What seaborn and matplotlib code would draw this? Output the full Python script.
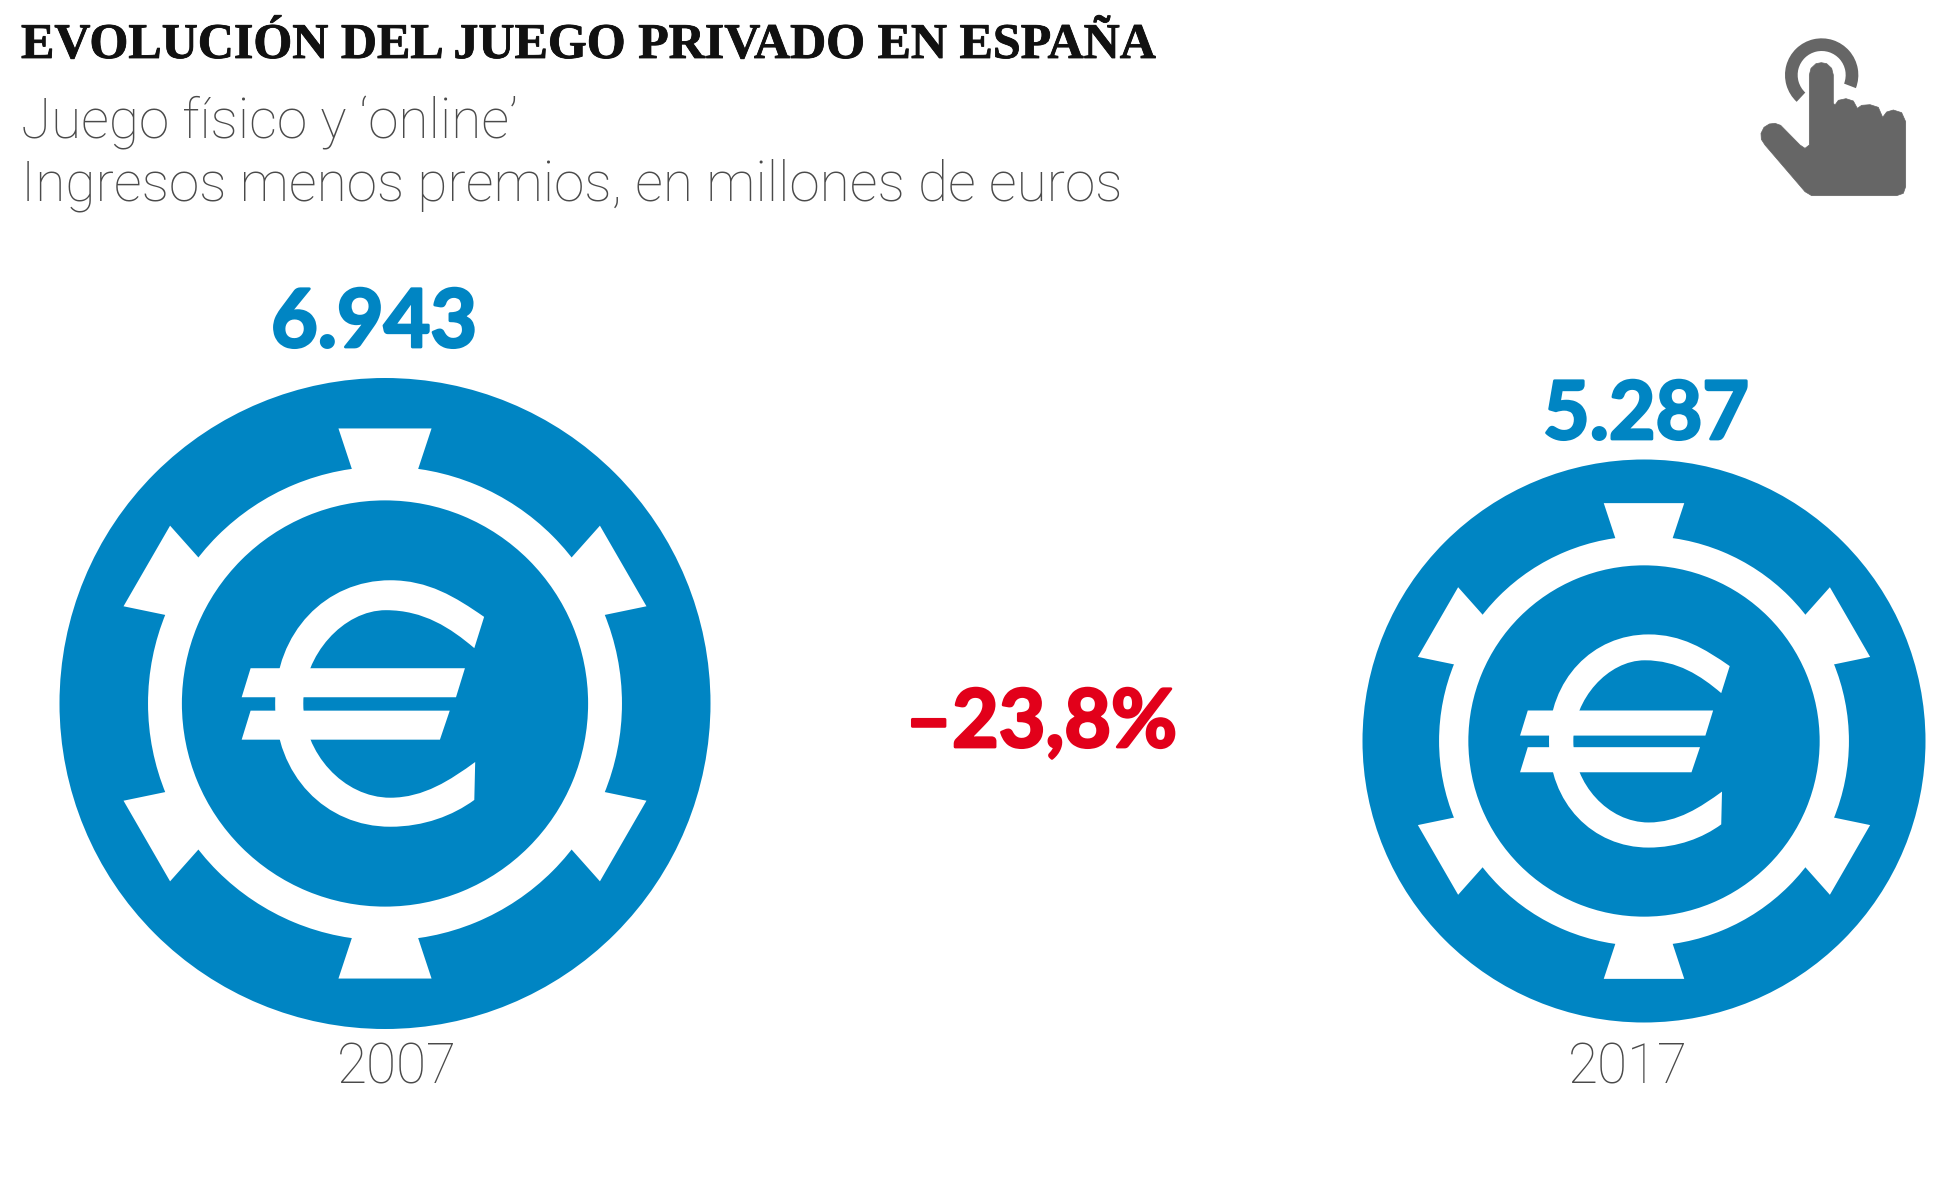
import numpy as np
import seaborn as sns
import matplotlib.pyplot as plt
import matplotlib.patheffects as pe
from matplotlib.patches import Wedge, Polygon, PathPatch
from matplotlib.path import Path

# data
years = ["2007", "2017"]
income = [6943, 5287]
change = "\u201323,8%"

title = "EVOLUCIÓN DEL JUEGO PRIVADO EN ESPAÑA"
subtitle = ["Juego físico y \u2018online\u2019", "Ingresos menos premios, en millones de euros"]

# layout, everything in pixels of the 1960x1194 picture
chip_x = [385, 1644]
chip_y = [703.5, 741]
chip_r = [325.5, 281.5]
value_x = [374, 1646]
value_y = [347, 439]
year_x = [397, 1628]

BLUE = "#0085c3"
RED = "#e2001a"
GREY = "#4a4a4a"
HAND = "#666666"

sns.set_theme(style="white")
plt.rcParams["font.family"] = ["Roboto", "DejaVu Sans"]

fig, ax = plt.subplots(figsize=(19.6, 11.94), dpi=100)
ax.set_position([0, 0, 1, 1])
ax.set_xlim(0, 1960)
ax.set_ylim(1194, 0)
ax.axis("off")

# the chips, diameter goes from pixels to points
sizes = {v: (2 * r * 0.72) ** 2 for v, r in zip(income, chip_r)}
sns.scatterplot(x=chip_x, y=chip_y, size=income, sizes=sizes, color=BLUE,
                linewidth=0, legend=False, ax=ax, zorder=1)


def draw_chip(cx, cy, r):
    # ring and six tabs, in units of the radius
    ax.add_patch(Wedge((cx, cy), 0.728 * r, 0, 360, width=0.104 * r, fc="white", ec="none", zorder=2))
    tab = np.array([[-0.143, -0.845], [0.143, -0.845], [0.100, -0.715], [-0.100, -0.715]])
    for deg in range(0, 360, 60):
        a = np.deg2rad(deg)
        rot = np.array([[np.cos(a), -np.sin(a)], [np.sin(a), np.cos(a)]])
        ax.add_patch(Polygon(tab @ rot.T * r + [cx, cy], fc="white", ec="none", zorder=2))

    # euro sign (centre 773,769 and radius 729)
    def to_px(points):
        return (np.array(points, dtype=float) - [773, 769]) / 729 * r + [cx, cy]

    c_points = [
        (995, 575), (930, 530), (870, 493), (785, 493), (640, 493), (527, 610), (527, 769),
        (527, 930), (640, 1045), (785, 1045), (860, 1045), (925, 1020), (973, 985),
        (975, 900), (920, 940), (860, 980), (785, 980), (680, 980), (590, 880), (590, 769),
        (590, 660), (680, 560), (775, 560), (860, 560), (920, 600), (973, 645), (995, 575),
    ]
    c_codes = [Path.MOVETO] + [Path.CURVE4] * 12 + [Path.LINETO] + [Path.CURVE4] * 12 + [Path.CLOSEPOLY]
    ax.add_patch(PathPatch(Path(to_px(c_points), c_codes), fc="white", ec="none", zorder=3))
    bar_top = [(472, 690), (952, 690), (932, 755), (452, 755)]
    bar_low = [(472, 785), (918, 785), (896, 850), (452, 850)]
    ax.add_patch(Polygon(to_px(bar_top), fc="white", ec="none", zorder=3))
    ax.add_patch(Polygon(to_px(bar_low), fc="white", ec="none", zorder=3))


for cx, cy, r in zip(chip_x, chip_y, chip_r):
    draw_chip(cx, cy, r)


# hand icon top right, zoomed crop coords: 3x from (1740, 20)
def hand(x, y):
    return 1740 + x / 3, 20 + y / 3


ax.add_patch(Wedge(hand(245, 165), 110 / 3, 133, 381, width=38 / 3, fc=HAND, ec="none"))
hand_outline = [
    (208, 375), (208, 165), (213, 145), (228, 131), (244, 128), (260, 131), (275, 145), (280, 165),
    (280, 250), (285, 255), (295, 241), (318, 236), (340, 243), (352, 265),
    (365, 256), (390, 254), (415, 262), (428, 292),
    (440, 276), (460, 270), (485, 278), (497, 305),
    (497, 500), (490, 520), (470, 527), (215, 527), (195, 515),
    (75, 375), (64, 358), (63, 340), (72, 322), (88, 312), (105, 310), (122, 316),
    (180, 375), (195, 385),
]
ax.add_patch(Polygon([hand(*p) for p in hand_outline], fc=HAND, ec=HAND, lw=0.5, joinstyle="round"))


# heavier numbers: Lato bold with a stroke of the same colour
def thick(color, width):
    return [pe.withStroke(linewidth=width, foreground=color)]


# texts
ax.text(21, 58, title, family="Liberation Serif", weight="bold", fontsize=36, color="#111111",
        ha="left", va="baseline", path_effects=thick("#111111", 0.6))
ax.text(21, 139, subtitle[0], fontsize=39.5, weight="light", color=GREY, ha="left", va="baseline")
ax.text(21, 200, subtitle[1], fontsize=39.5, weight="light", color=GREY, ha="left", va="baseline")

for x, y, v in zip(value_x, value_y, income):
    ax.text(x, y, f"{v:,}".replace(",", "."), family="Lato", fontsize=58, weight="bold",
            color=BLUE, ha="center", va="baseline", path_effects=thick(BLUE, 2))
for x, label in zip(year_x, years):
    ax.text(x, 1084, label, fontsize=39.5, weight="light", color=GREY, ha="center", va="baseline")

ax.text(1041, 747, change, family="Lato", fontsize=58, weight="bold", color=RED,
        ha="center", va="baseline", path_effects=thick(RED, 2))

fig.savefig("out.png", dpi=100)
